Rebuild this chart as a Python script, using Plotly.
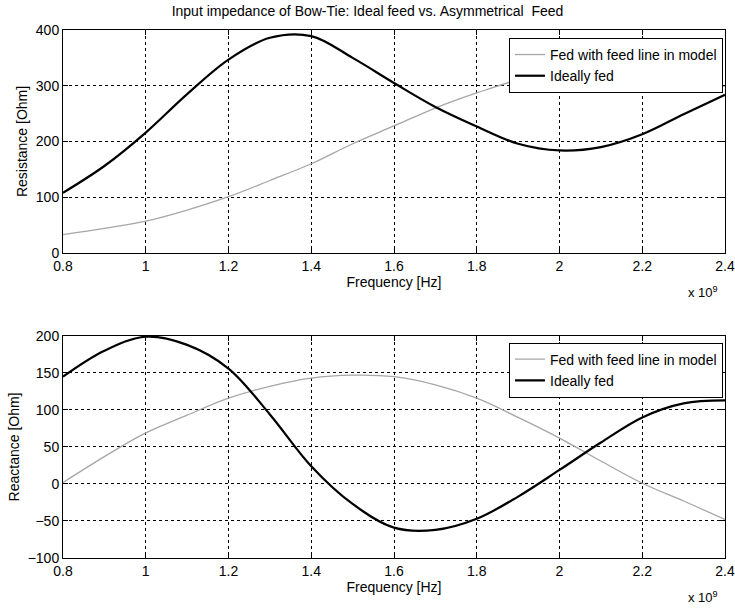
import plotly.graph_objects as go
from plotly.subplots import make_subplots

# Frequency in units of 1e9 Hz
freq = [0.8, 0.9, 1.0, 1.1, 1.2, 1.3, 1.4, 1.5, 1.6, 1.7, 1.8, 1.9, 2.0, 2.1, 2.2, 2.3, 2.4]

res_fed = [33, 44, 57, 77, 101, 130, 160, 196, 228, 260, 287, 310, 320, 322, 321, 314, 299]
res_ideal = [108, 156, 216, 285, 347, 386, 389, 350, 305, 262, 227, 196, 184, 190, 213, 249, 284]

reac_fed = [2, 37, 69, 93, 116, 132, 143, 147, 145, 134, 116, 90, 62, 31, 1, -23, -48]
reac_ideal = [145, 180, 199, 188, 156, 94, 24, -27, -59, -62, -47, -17, 19, 56, 90, 109, 113]

x_ticks = [0.8, 1.0, 1.2, 1.4, 1.6, 1.8, 2.0, 2.2, 2.4]
x_tick_text = ["0.8", "1", "1.2", "1.4", "1.6", "1.8", "2", "2.2", "2.4"]
res_ticks = [0, 100, 200, 300, 400]
reac_ticks = [-100, -50, 0, 50, 100, 150, 200]

title_text = "Input impedance of Bow-Tie: Ideal feed vs. Asymmetrical  Feed"
name_fed = "Fed with feed line in model"
name_ideal = "Ideally fed"

FONT = "Liberation Sans, Arial, sans-serif"
FS = 14

fig = make_subplots(rows=2, cols=1, vertical_spacing=0.157)

fed_line = dict(color="#a6a6a6", width=1.3)
ideal_line = dict(color="black", width=2.2)

fig.add_trace(go.Scatter(x=freq, y=res_fed, mode="lines", name=name_fed,
                         line=dict(shape="spline", **fed_line), legend="legend"), row=1, col=1)
fig.add_trace(go.Scatter(x=freq, y=res_ideal, mode="lines", name=name_ideal,
                         line=dict(shape="spline", **ideal_line), legend="legend"), row=1, col=1)
fig.add_trace(go.Scatter(x=freq, y=reac_fed, mode="lines", name=name_fed,
                         line=dict(shape="spline", **fed_line), legend="legend2"), row=2, col=1)
fig.add_trace(go.Scatter(x=freq, y=reac_ideal, mode="lines", name=name_ideal,
                         line=dict(shape="spline", **ideal_line), legend="legend2"), row=2, col=1)

axis_common = dict(showline=True, linecolor="black", linewidth=1, mirror="ticks",
                   ticks="inside", ticklen=5, tickcolor="black",
                   showgrid=True, gridcolor="black", griddash="3px,3px", gridwidth=1,
                   zeroline=False, automargin=False,
                   tickfont=dict(size=FS, color="black", family=FONT))

for r in (1, 2):
    fig.update_xaxes(range=[0.8, 2.4], tickvals=x_ticks, ticktext=x_tick_text,
                     title=dict(text="Frequency [Hz]", font=dict(size=FS, color="black", family=FONT),
                                standoff=2),
                     row=r, col=1, **axis_common)

fig.update_yaxes(range=[0, 400], tickvals=res_ticks,
                 title=dict(text="Resistance [Ohm]", font=dict(size=FS, color="black", family=FONT),
                            standoff=4),
                 row=1, col=1, **axis_common)
fig.update_yaxes(range=[-100, 200], tickvals=reac_ticks,
                 title=dict(text="Reactance [Ohm]", font=dict(size=FS, color="black", family=FONT),
                            standoff=4),
                 row=2, col=1, **axis_common)

fig.update_layout(
    width=735, height=608,
    margin=dict(l=63, r=10, t=30, b=50),
    paper_bgcolor="white", plot_bgcolor="white",
    showlegend=True,
    title=dict(text=title_text, x=0.5, xanchor="center", y=0.99, yanchor="top",
               font=dict(size=FS, color="black", family=FONT)),
    legend=dict(x=0.997, y=0.985, xref="paper", yref="paper", xanchor="right", yanchor="top",
                bordercolor="black", borderwidth=1, bgcolor="white",
                font=dict(size=FS, color="black", family=FONT),
                tracegroupgap=0, itemwidth=30),
    legend2=dict(x=0.997, y=0.408, xref="paper", yref="paper", xanchor="right", yanchor="top",
                 bordercolor="black", borderwidth=1, bgcolor="white",
                 font=dict(size=FS, color="black", family=FONT),
                 tracegroupgap=0, itemwidth=30),
)

fig.update_xaxes(domain=[0, 1])
fig.update_yaxes(domain=[0.5777, 1.0], row=1, col=1)
fig.update_yaxes(domain=[0.0, 0.4205], row=2, col=1)

# "x 10^9" multiplier labels
for ypos in (0.5777, 0.0):
    fig.add_annotation(text="x 10<sup>9</sup>", xref="paper", yref="paper",
                       x=0.992, y=ypos, xanchor="right", yanchor="top", yshift=-29,
                       showarrow=False, font=dict(size=13, color="black", family=FONT))

fig.write_html("out.html")
